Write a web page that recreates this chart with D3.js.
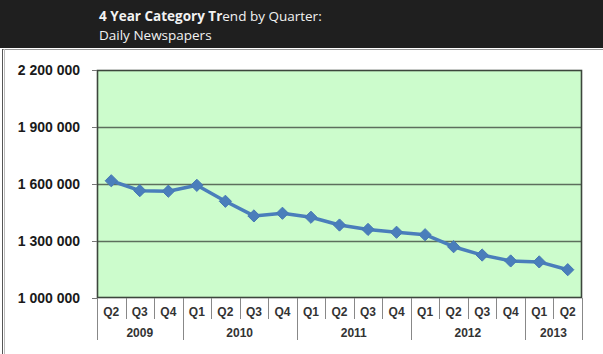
<!DOCTYPE html>
<html lang="en">
  <head>
    <meta charset="UTF-8" />
    <title>4 Year Category Trend by Quarter: Daily Newspapers</title>
    <script src="https://d3js.org/d3.v7.min.js"></script>
    <style>
      body {
        margin: 0;
        background: #fff;
      }
      .header-text {
        fill: #f2f2f2;
        font-family: "Open Sans", sans-serif;
        font-size: 13.5px;
      }
      .y-label {
        font-family: Arial, "Liberation Sans", sans-serif;
        font-weight: bold;
        font-size: 14px;
        fill: #1a1a1a;
      }
      .x-label {
        font-family: Arial, "Liberation Sans", sans-serif;
        font-weight: bold;
        font-size: 12px;
        fill: #333;
      }
    </style>
  </head>
  <body>
    <svg id="chart" width="603" height="354"></svg>

    <script>
      const quarters = ["Q2", "Q3", "Q4", "Q1", "Q2", "Q3", "Q4", "Q1", "Q2", "Q3", "Q4", "Q1", "Q2", "Q3", "Q4", "Q1", "Q2"];
      const years = ["2009", "2009", "2009", "2010", "2010", "2010", "2010", "2011", "2011", "2011", "2011", "2012", "2012", "2012", "2012", "2013", "2013"];
      const circulation = [1617000, 1565000, 1562000, 1593000, 1509000, 1432000, 1446000, 1425000, 1384000, 1361000, 1346000, 1333000, 1270000, 1226000, 1195000, 1190000, 1149000];
      const yTicks = [1000000, 1300000, 1600000, 1900000, 2200000];

      const svg = d3.select("#chart");
      const margin = { top: 70, right: 21, bottom: 56, left: 97 };
      const width = 603 - margin.left - margin.right;
      const height = 354 - margin.top - margin.bottom;

      // Header bar
      svg.append("rect")
        .attr("x", 0).attr("y", 0)
        .attr("width", 603).attr("height", 48)
        .attr("fill", "#1f1f1f");

      const title = svg.append("text")
        .attr("class", "header-text")
        .attr("x", 99).attr("y", 21);
      title.append("tspan").attr("font-weight", "bold").text("4 Year Category Tr");
      title.append("tspan").text("end by Quarter:");

      svg.append("text")
        .attr("class", "header-text")
        .attr("x", 99).attr("y", 40)
        .text("Daily Newspapers");

      // Panel border
      svg.append("line")
        .attr("x1", 2).attr("x2", 603).attr("y1", 49.5).attr("y2", 49.5)
        .attr("stroke", "#999");
      svg.append("line")
        .attr("x1", 2.5).attr("x2", 2.5).attr("y1", 49).attr("y2", 354)
        .attr("stroke", "#555");
      svg.append("line")
        .attr("x1", 4.5).attr("x2", 4.5).attr("y1", 49).attr("y2", 354)
        .attr("stroke", "#bbb");

      const g = svg.append("g")
        .attr("transform", `translate(${margin.left},${margin.top})`);

      const idx = d3.range(quarters.length);

      const x = d3.scaleBand()
        .domain(idx)
        .range([0, width]);

      const y = d3.scaleLinear()
        .domain([1000000, 2200000])
        .range([height, 0]);

      const fmt = (v) => d3.format(",")(v).replace(/,/g, " ");

      // Plot background
      g.append("rect")
        .attr("width", width).attr("height", height)
        .attr("fill", "#ccfccc");

      // Gridlines
      g.selectAll(".grid")
        .data(yTicks.slice(1, -1))
        .enter()
        .append("line")
        .attr("x1", 0).attr("x2", width)
        .attr("y1", (d) => Math.round(y(d)) + 0.5)
        .attr("y2", (d) => Math.round(y(d)) + 0.5)
        .attr("stroke", "#5d6e5d")
        .attr("stroke-width", 1.3);

      g.append("rect")
        .attr("x", 0.5).attr("y", 0.5)
        .attr("width", width - 1).attr("height", height - 1)
        .attr("fill", "none")
        .attr("stroke", "#3c463c")
        .attr("stroke-width", 1.6);

      // Y axis
      const yAxis = g.append("g")
        .call(d3.axisLeft(y).tickValues(yTicks).tickSize(5).tickPadding(12).tickFormat(fmt));
      yAxis.select(".domain").remove();
      yAxis.selectAll(".tick line").attr("stroke", "#777");
      yAxis.selectAll(".tick text")
        .attr("class", "y-label")
        .attr("fill", null)
        .attr("font-family", null)
        .attr("font-size", null);

      // X axis: quarter separators and labels
      const xAxis = g.append("g").attr("transform", `translate(0,${height})`);
      xAxis.selectAll(".qsep")
        .data(idx.concat([quarters.length]))
        .enter()
        .append("line")
        .attr("x1", (d) => Math.round(d < quarters.length ? x(d) : width) + 0.5)
        .attr("x2", (d) => Math.round(d < quarters.length ? x(d) : width) + 0.5)
        .attr("y1", 0)
        .attr("y2", (d) => (d === 0 || d === quarters.length || years[d] !== years[d - 1]) ? 42 : 21)
        .attr("stroke", "#888");

      xAxis.selectAll(".qlabel")
        .data(idx)
        .enter()
        .append("text")
        .attr("class", "x-label")
        .attr("x", (d) => x(d) + x.bandwidth() / 2)
        .attr("y", 18)
        .attr("text-anchor", "middle")
        .text((d) => quarters[d]);

      const yearGroups = d3.groups(idx, (d) => years[d]);
      xAxis.selectAll(".ylabel")
        .data(yearGroups)
        .enter()
        .append("text")
        .attr("class", "x-label")
        .attr("x", (d) => (x(d[1][0]) + x(d[1][d[1].length - 1]) + x.bandwidth()) / 2)
        .attr("y", 39)
        .attr("text-anchor", "middle")
        .text((d) => d[0]);

      // Line
      const line = d3.line()
        .x((d) => x(d) + x.bandwidth() / 2)
        .y((d) => y(circulation[d]));

      g.append("path")
        .datum(idx)
        .attr("fill", "none")
        .attr("stroke", "#4a7ebb")
        .attr("stroke-width", 3.5)
        .attr("stroke-linejoin", "round")
        .attr("d", line);

      g.selectAll(".marker")
        .data(idx)
        .enter()
        .append("path")
        .attr("d", d3.symbol().type(d3.symbolDiamond2).size(95))
        .attr("transform", (d) => `translate(${x(d) + x.bandwidth() / 2},${y(circulation[d])})`)
        .attr("fill", "#4a7ebb")
        .attr("stroke", "#4678b4")
        .attr("stroke-width", 1);
    </script>
  </body>
</html>
